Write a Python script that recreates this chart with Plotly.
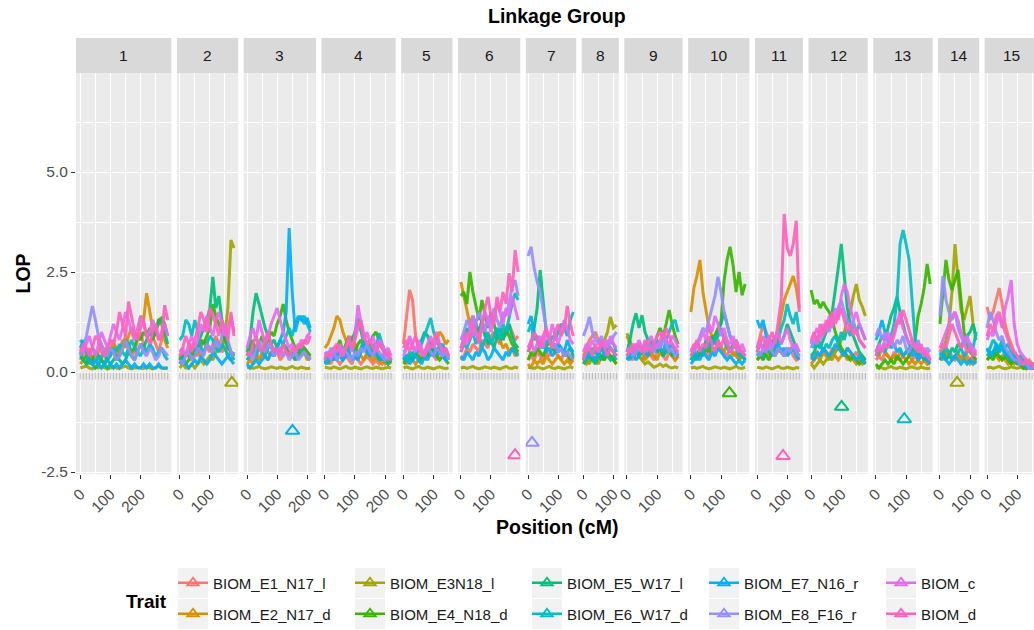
import plotly.graph_objects as go

# ---------------- data ----------------
TRAITS = ["BIOM_E1_N17_l", "BIOM_E2_N17_d", "BIOM_E3N18_l", "BIOM_E4_N18_d", "BIOM_E5_W17_l",
          "BIOM_E6_W17_d", "BIOM_E7_N16_r", "BIOM_E8_F16_r", "BIOM_c", "BIOM_d"]
COLORS = ["#F8766D", "#D89000", "#A3A500", "#39B600", "#00BF7D",
          "#00BFC4", "#00B0F6", "#9590FF", "#E76BF3", "#FF62BC"]
LINKAGE_GROUPS = ["1", "2", "3", "4", "5", "6", "7", "8", "9", "10", "11", "12", "13", "14", "15"]
LG_LENGTH = [288, 185, 218, 224, 155, 188, 152, 112, 176, 185, 145, 179, 179, 124, 161]
X_BREAKS = [0, 100, 200]
X_MINOR_BREAKS = [50, 150, 250]
Y_BREAKS = [-2.5, 0.0, 2.5, 5.0]
Y_MINOR_BREAKS = [-1.25, 1.25, 3.75, 6.25]
STEP_CM = 10          # scan step of the LOP profiles
RUG_Y = -0.1          # level of the marker rug

# LOP profiles, one list per trait (order of TRAITS), sampled every STEP_CM
LOP_LG1 = [
    [0.3, 0.5, 0.4, 0.6, 0.3, 0.2, 0.5, 0.7, 0.4, 0.3, 0.6, 0.8, 0.5, 0.4, 0.7, 0.9, 0.6, 0.4, 0.5, 0.8, 1.0, 0.7, 0.5, 0.6, 0.9, 0.7, 0.5, 0.8, 1.1, 0.9],
    [0.2, 0.3, 0.2, 0.4, 0.3, 0.5, 0.4, 0.3, 0.6, 0.5, 0.4, 0.7, 0.6, 0.5, 0.8, 0.6, 0.9, 1.1, 0.8, 1.0, 1.4, 1.3, 1.97, 1.5, 1.1, 0.9, 1.3, 1.2, 0.8, 0.6],
    [0.1, 0.12, 0.15, 0.1, 0.08, 0.12, 0.1, 0.14, 0.11, 0.08, 0.1, 0.13, 0.1, 0.09, 0.12, 0.15, 0.1, 0.08, 0.1, 0.12, 0.1, 0.09, 0.13, 0.1, 0.08, 0.11, 0.14, 0.1, 0.09, 0.1],
    [0.5, 0.3, 0.4, 0.2, 0.3, 0.5, 0.4, 0.3, 0.2, 0.4, 0.6, 0.5, 0.3, 0.4, 0.6, 0.8, 0.7, 0.5, 0.6, 0.9, 0.8, 1.0, 0.9, 1.1, 0.8, 1.0, 1.3, 1.35, 1.2, 0.9],
    [0.4, 0.3, 0.2, 0.3, 0.2, 0.1, 0.2, 0.3, 0.2, 0.1, 0.2, 0.3, 0.4, 0.3, 0.2, 0.3, 0.5, 0.4, 0.3, 0.5, 0.7, 0.6, 0.8, 1.0, 0.9, 1.1, 1.2, 1.3, 1.0, 0.7],
    [0.8, 0.7, 0.5, 0.4, 0.6, 0.5, 0.3, 0.4, 0.5, 0.3, 0.4, 0.6, 0.5, 0.7, 0.5, 0.4, 0.6, 0.8, 0.6, 0.5, 0.4, 0.6, 0.5, 0.7, 0.6, 0.4, 0.5, 0.6, 0.4, 0.3],
    [0.6, 0.8, 0.5, 0.3, 0.2, 0.3, 0.2, 0.1, 0.2, 0.3, 0.2, 0.1, 0.2, 0.1, 0.2, 0.3, 0.2, 0.1, 0.2, 0.1, 0.1, 0.2, 0.1, 0.2, 0.1, 0.1, 0.2, 0.1, 0.1, 0.1],
    [0.4, 0.6, 0.9, 1.3, 1.65, 1.3, 0.9, 0.7, 0.5, 0.4, 0.6, 0.5, 0.3, 0.4, 0.6, 0.8, 0.6, 0.4, 0.3, 0.5, 0.7, 0.5, 0.4, 0.6, 0.5, 0.3, 0.4, 0.6, 0.5, 0.4],
    [0.6, 0.5, 0.7, 0.9, 0.6, 0.4, 0.7, 1.0, 0.8, 0.6, 0.9, 1.2, 1.0, 0.8, 1.1, 1.5, 1.3, 1.0, 0.8, 1.1, 1.4, 1.2, 0.9, 1.0, 1.3, 1.1, 0.8, 1.0, 1.2, 0.9],
    [0.5, 0.7, 0.6, 0.4, 0.6, 0.9, 0.8, 0.5, 0.4, 0.6, 0.8, 0.7, 1.0, 1.5, 1.2, 0.9, 1.76, 1.4, 1.0, 0.8, 1.1, 1.3, 0.9, 0.7, 1.0, 1.2, 0.8, 0.9, 1.67, 1.3],
]
LOP_LG2 = [
    [0.3, 0.5, 0.4, 0.6, 0.7, 0.5, 0.4, 0.6, 0.8, 0.6, 0.5, 0.7, 0.9, 0.7, 0.5, 0.6, 0.4, 0.3, 0.5],
    [0.2, 0.3, 0.5, 0.4, 0.3, 0.5, 0.6, 0.4, 0.5, 0.7, 0.6, 0.5, 0.8, 0.7, 0.6, 0.9, 0.7, 0.5, 0.4],
    [0.1, 0.2, 0.1, 0.1, 0.2, 0.1, 0.2, 0.3, 0.2, 0.3, 0.4, 0.3, 0.5, 0.6, 0.6, 0.9, 1.6, 3.3, 3.1],
    [0.3, 0.4, 0.2, 0.3, 0.5, 0.4, 0.6, 0.8, 0.7, 0.9, 1.1, 1.7, 1.4, 1.2, 1.0, 0.8, 0.6, 0.5, 0.4],
    [0.4, 0.3, 0.5, 0.4, 0.6, 0.5, 0.7, 0.9, 1.1, 1.3, 1.6, 2.38, 1.6, 1.9, 1.3, 1.0, 0.7, 0.5, 0.4],
    [0.8, 0.9, 1.3, 1.2, 0.9, 1.3, 1.0, 0.6, 0.5, 0.7, 0.9, 0.8, 0.6, 0.5, 0.7, 0.6, 0.4, 0.5, 0.3],
    [0.2, 0.3, 0.2, 0.1, 0.2, 0.3, 0.2, 0.4, 0.3, 0.2, 0.3, 0.5, 0.4, 0.3, 0.2, 0.3, 0.4, 0.3, 0.2],
    [0.3, 0.2, 0.4, 0.5, 0.3, 0.4, 0.6, 0.5, 0.4, 0.7, 0.6, 0.5, 0.8, 0.6, 0.9, 1.2, 0.8, 0.5, 0.4],
    [0.5, 0.6, 0.4, 0.7, 0.9, 0.6, 0.8, 1.2, 1.0, 1.4, 1.1, 0.9, 1.3, 1.5, 1.2, 0.9, 1.1, 1.4, 1.0],
    [0.4, 0.6, 0.9, 0.7, 0.5, 0.8, 1.1, 1.5, 1.3, 1.0, 1.6, 1.4, 1.2, 0.9, 1.3, 1.1, 0.8, 1.5, 0.9],
]
LOP_LG3 = [
    [0.3, 0.4, 0.6, 0.5, 0.3, 0.4, 0.6, 0.5, 0.4, 0.6, 0.5, 0.3, 0.4, 0.6, 0.5, 0.4, 0.3, 0.5, 0.4, 0.6, 0.5, 0.4],
    [0.2, 0.3, 0.2, 0.4, 0.3, 0.5, 0.4, 0.3, 0.5, 0.4, 0.6, 0.5, 0.7, 0.6, 0.5, 0.4, 0.5, 0.6, 0.4, 0.5, 0.3, 0.4],
    [0.1, 0.12, 0.09, 0.11, 0.14, 0.1, 0.08, 0.1, 0.13, 0.11, 0.09, 0.12, 0.1, 0.08, 0.11, 0.14, 0.1, 0.09, 0.12, 0.1, 0.08, 0.1],
    [0.4, 0.6, 0.8, 0.5, 0.7, 0.9, 0.6, 0.8, 1.0, 0.9, 1.2, 1.4, 1.7, 1.3, 1.0, 0.8, 0.6, 0.5, 0.7, 0.6, 0.5, 0.4],
    [0.5, 0.8, 1.5, 1.97, 1.7, 1.4, 1.1, 0.9, 0.7, 0.8, 0.6, 0.5, 0.7, 0.6, 0.4, 0.5, 0.3, 0.4, 0.6, 0.5, 0.4, 0.3],
    [0.3, 0.4, 0.5, 0.4, 0.6, 0.5, 0.4, 0.6, 0.7, 0.5, 0.6, 0.8, 0.7, 0.9, 1.1, 0.9, 1.2, 1.4, 1.3, 1.4, 1.2, 1.0],
    [0.2, 0.1, 0.2, 0.3, 0.2, 0.3, 0.4, 0.3, 0.5, 0.4, 0.6, 0.8, 1.0, 1.5, 3.6, 2.0, 1.0, 1.3, 1.4, 1.2, 1.35, 1.1],
    [0.4, 0.5, 0.3, 0.6, 0.8, 0.6, 0.5, 0.7, 0.6, 0.4, 0.5, 0.6, 0.4, 0.5, 0.3, 0.4, 0.5, 0.3, 0.4, 0.5, 0.4, 0.3],
    [0.6, 0.9, 1.1, 0.8, 1.3, 1.0, 0.7, 0.9, 1.2, 1.4, 1.6, 1.3, 1.0, 0.8, 0.6, 0.7, 0.5, 0.6, 0.8, 0.7, 0.9, 1.0],
    [0.5, 0.4, 0.7, 0.9, 0.6, 0.5, 0.8, 1.0, 0.7, 0.5, 0.6, 0.4, 0.7, 0.5, 0.4, 0.6, 0.5, 0.7, 0.6, 0.8, 0.7, 0.9],
]
LOP_LG4 = [
    [0.2, 0.3, 0.2, 0.4, 0.3, 0.2, 0.3, 0.4, 0.3, 0.2, 0.4, 0.3, 0.2, 0.3, 0.4, 0.3, 0.2, 0.3, 0.2, 0.3, 0.2, 0.3, 0.2],
    [0.6, 0.7, 0.9, 1.1, 1.4, 1.3, 1.0, 0.8, 0.6, 0.9, 0.7, 0.5, 0.4, 0.3, 0.5, 0.4, 0.3, 0.4, 0.3, 0.2, 0.3, 0.2, 0.3],
    [0.12, 0.1, 0.09, 0.13, 0.1, 0.08, 0.11, 0.14, 0.1, 0.09, 0.12, 0.1, 0.08, 0.11, 0.13, 0.1, 0.09, 0.12, 0.1, 0.08, 0.1, 0.12, 0.1],
    [0.3, 0.4, 0.5, 0.4, 0.6, 0.8, 0.5, 0.7, 0.9, 0.6, 0.5, 0.7, 0.8, 0.6, 0.5, 0.7, 0.9, 1.0, 0.8, 0.6, 0.5, 0.4, 0.3],
    [0.3, 0.2, 0.4, 0.3, 0.5, 0.4, 0.3, 0.5, 0.6, 0.8, 1.0, 1.35, 1.0, 0.7, 0.5, 0.6, 0.4, 0.5, 0.3, 0.4, 0.3, 0.2, 0.3],
    [0.4, 0.3, 0.5, 0.4, 0.3, 0.5, 0.6, 0.4, 0.5, 0.7, 0.5, 0.4, 0.6, 0.8, 0.6, 0.5, 0.7, 0.6, 0.97, 0.7, 0.5, 0.4, 0.3],
    [0.2, 0.3, 0.4, 0.3, 0.5, 0.4, 0.3, 0.4, 0.5, 0.3, 0.4, 0.3, 0.5, 0.7, 0.5, 0.4, 0.6, 0.5, 0.4, 0.3, 0.5, 0.4, 0.3],
    [0.5, 0.4, 0.6, 0.5, 0.3, 0.4, 0.6, 0.5, 0.4, 0.3, 0.5, 0.4, 0.6, 0.5, 0.7, 0.5, 0.4, 0.6, 0.5, 0.4, 0.3, 0.4, 0.3],
    [0.4, 0.5, 0.3, 0.6, 0.5, 0.7, 0.4, 0.6, 0.8, 0.5, 0.9, 1.67, 1.2, 0.8, 1.0, 0.7, 0.9, 0.6, 0.8, 0.7, 0.5, 0.6, 0.4],
    [0.3, 0.5, 0.4, 0.6, 0.7, 0.5, 0.4, 0.6, 0.9, 0.6, 0.8, 1.1, 1.3, 0.9, 0.7, 0.8, 0.6, 0.5, 0.7, 0.6, 0.4, 0.5, 0.3],
]
LOP_LG5 = [
    [0.7, 1.4, 2.05, 1.8, 0.9, 0.6, 0.5, 0.4, 0.6, 0.5, 0.4, 0.3, 0.5, 0.4, 0.3, 0.4],
    [0.3, 0.2, 0.4, 0.3, 0.2, 0.3, 0.4, 0.3, 0.5, 0.4, 0.6, 0.8, 1.0, 0.9, 0.7, 0.8],
    [0.1, 0.13, 0.1, 0.08, 0.11, 0.14, 0.1, 0.09, 0.12, 0.1, 0.08, 0.11, 0.13, 0.1, 0.09, 0.1],
    [0.2, 0.3, 0.4, 0.3, 0.5, 0.4, 0.3, 0.5, 0.4, 0.6, 0.5, 0.4, 0.3, 0.4, 0.3, 0.2],
    [0.3, 0.4, 0.3, 0.5, 0.4, 0.6, 0.8, 1.0, 0.9, 0.7, 0.5, 0.4, 0.6, 0.5, 0.4, 0.3],
    [0.4, 0.3, 0.5, 0.4, 0.6, 0.5, 0.7, 0.9, 1.1, 1.35, 1.0, 0.8, 0.6, 0.7, 0.5, 0.4],
    [0.3, 0.4, 0.2, 0.3, 0.4, 0.3, 0.2, 0.4, 0.3, 0.5, 0.4, 0.6, 0.5, 0.4, 0.3, 0.4],
    [0.5, 0.6, 0.8, 0.6, 0.5, 0.7, 0.5, 0.4, 0.6, 0.5, 0.4, 0.6, 0.5, 0.4, 0.5, 0.3],
    [0.4, 0.6, 0.9, 0.7, 0.5, 0.8, 0.6, 0.4, 0.7, 0.9, 0.6, 0.8, 0.7, 0.5, 0.6, 0.4],
    [0.6, 0.8, 0.5, 0.7, 0.9, 0.6, 0.4, 0.5, 0.7, 0.6, 0.8, 1.0, 0.7, 0.5, 0.6, 0.4],
]
LOP_LG6 = [
    [0.3, 0.4, 0.6, 0.5, 0.7, 0.6, 0.5, 0.8, 0.7, 0.6, 0.9, 1.0, 0.8, 0.7, 1.1, 0.9, 1.2, 1.0, 0.8, 0.9],
    [2.25, 1.9, 1.5, 1.2, 1.4, 1.1, 0.9, 1.3, 1.0, 0.8, 0.7, 0.9, 1.1, 0.8, 0.6, 0.7, 0.5, 0.6, 0.4, 0.5],
    [0.1, 0.12, 0.09, 0.11, 0.14, 0.1, 0.08, 0.1, 0.13, 0.11, 0.09, 0.12, 0.1, 0.08, 0.11, 0.14, 0.1, 0.09, 0.12, 0.1],
    [1.9, 2.0, 1.7, 2.5, 2.0, 1.6, 1.3, 1.8, 1.4, 1.1, 1.5, 1.2, 0.9, 1.0, 0.8, 1.1, 0.9, 0.7, 0.6, 0.5],
    [0.6, 0.8, 1.1, 0.9, 1.4, 1.2, 1.0, 1.3, 0.9, 0.7, 0.8, 0.6, 0.9, 1.1, 0.8, 1.0, 1.2, 0.9, 0.7, 0.6],
    [0.5, 0.7, 0.6, 0.8, 1.0, 0.7, 0.9, 0.6, 0.8, 1.0, 0.7, 0.9, 1.1, 0.8, 1.2, 1.0, 1.4, 1.7, 1.97, 1.8],
    [0.4, 0.3, 0.5, 0.4, 0.3, 0.5, 0.4, 0.6, 0.5, 0.3, 0.4, 0.6, 0.5, 0.4, 0.3, 0.5, 0.4, 0.6, 0.5, 0.4],
    [0.8, 1.0, 1.3, 1.1, 0.9, 1.2, 1.5, 1.3, 1.0, 1.4, 1.2, 1.6, 1.3, 1.1, 1.5, 1.4, 1.8, 2.1, 2.3, 1.9],
    [0.6, 0.9, 0.7, 1.1, 1.4, 1.0, 0.8, 1.2, 1.5, 1.3, 1.0, 1.4, 1.7, 1.5, 1.2, 1.6, 1.4, 1.9, 1.6, 1.3],
    [0.5, 0.7, 1.0, 0.8, 1.2, 1.0, 0.7, 1.1, 1.6, 1.88, 1.4, 1.2, 1.88, 1.5, 2.0, 1.7, 2.47, 2.0, 3.05, 2.5],
]
LOP_LG7 = [
    [0.3, 0.4, 0.3, 0.5, 0.4, 0.3, 0.5, 0.4, 0.6, 0.5, 0.4, 0.3, 0.5, 0.4, 0.3, 0.4],
    [0.2, 0.1, 0.3, 0.2, 0.3, 0.2, 0.4, 0.3, 0.2, 0.3, 0.4, 0.3, 0.2, 0.3, 0.2, 0.3],
    [0.12, 0.1, 0.09, 0.13, 0.1, 0.08, 0.11, 0.14, 0.1, 0.09, 0.12, 0.1, 0.08, 0.11, 0.13, 0.1],
    [0.3, 0.5, 0.4, 0.6, 0.5, 0.4, 0.6, 0.8, 0.6, 0.5, 0.7, 0.6, 0.4, 0.5, 0.3, 0.4],
    [0.5, 0.7, 1.1, 1.6, 2.55, 1.8, 1.0, 0.8, 0.6, 0.7, 0.5, 0.6, 0.4, 0.5, 0.6, 0.4],
    [1.0, 1.2, 0.8, 0.9, 0.7, 0.6, 0.8, 0.7, 0.9, 0.8, 1.0, 1.2, 1.1, 0.9, 1.3, 1.5],
    [1.2, 1.4, 1.0, 0.8, 0.6, 0.7, 0.5, 0.6, 0.4, 0.5, 0.7, 0.6, 0.5, 0.8, 0.6, 0.5],
    [2.9, 3.13, 2.6, 2.25, 2.0, 1.5, 1.1, 0.8, 0.6, 0.7, 0.5, 0.6, 0.4, 0.5, 0.4, 0.3],
    [0.6, 0.8, 0.5, 0.7, 0.9, 0.6, 1.0, 0.8, 1.2, 0.9, 0.7, 1.0, 1.3, 1.1, 0.8, 0.7],
    [0.5, 0.7, 1.0, 0.8, 0.6, 0.9, 1.1, 0.8, 0.6, 1.0, 1.2, 0.9, 1.1, 1.65, 1.2, 0.9],
]
LOP_LG8 = [
    [0.4, 0.6, 0.8, 0.9, 1.0, 0.8, 0.6, 0.5, 0.7, 0.6, 0.5, 0.4],
    [0.3, 0.2, 0.3, 0.4, 0.3, 0.2, 0.4, 0.3, 0.5, 0.4, 0.3, 0.2],
    [0.2, 0.3, 0.2, 0.4, 0.3, 0.5, 0.6, 0.8, 1.0, 1.38, 1.1, 1.17],
    [0.3, 0.4, 0.5, 0.4, 0.6, 0.5, 0.4, 0.3, 0.5, 0.4, 0.3, 0.2],
    [0.2, 0.3, 0.4, 0.3, 0.2, 0.4, 0.3, 0.5, 0.4, 0.3, 0.4, 0.3],
    [0.3, 0.5, 0.4, 0.6, 0.5, 0.4, 0.7, 0.5, 0.6, 0.8, 0.7, 0.5],
    [0.4, 0.3, 0.5, 0.4, 0.3, 0.5, 0.6, 0.4, 0.5, 0.6, 0.5, 0.4],
    [0.9, 1.1, 1.38, 1.0, 0.8, 0.7, 0.9, 0.6, 0.8, 0.7, 0.9, 1.0],
    [0.5, 0.7, 0.6, 0.8, 0.6, 0.5, 0.7, 0.8, 0.6, 0.9, 0.7, 0.6],
    [0.3, 0.5, 0.6, 0.4, 0.7, 0.5, 0.8, 0.6, 0.4, 0.6, 0.5, 0.4],
]
LOP_LG9 = [
    [0.3, 0.4, 0.3, 0.5, 0.4, 0.3, 0.4, 0.5, 0.4, 0.3, 0.5, 0.6, 0.4, 0.3, 0.5, 0.4, 0.3, 0.4],
    [0.9, 0.7, 0.5, 0.6, 0.4, 0.5, 0.3, 0.4, 0.5, 0.4, 0.3, 0.5, 0.4, 0.6, 0.5, 0.4, 0.3, 0.4],
    [0.97, 0.8, 0.6, 0.5, 0.4, 0.3, 0.2, 0.25, 0.18, 0.12, 0.15, 0.2, 0.14, 0.18, 0.12, 0.1, 0.13, 0.1],
    [0.4, 0.5, 0.6, 0.5, 0.7, 0.6, 0.5, 0.7, 0.8, 0.6, 0.9, 1.1, 0.9, 1.2, 1.55, 1.2, 0.9, 0.7],
    [0.5, 0.8, 1.2, 1.47, 1.1, 1.42, 1.0, 0.8, 0.6, 0.7, 0.5, 0.6, 0.4, 0.5, 0.6, 0.4, 0.5, 0.4],
    [0.4, 0.3, 0.5, 0.6, 0.4, 0.5, 0.7, 0.6, 0.5, 0.7, 0.8, 0.6, 0.9, 0.8, 1.0, 1.2, 1.3, 1.0],
    [0.3, 0.4, 0.5, 0.3, 0.4, 0.6, 0.5, 0.4, 0.6, 0.5, 0.7, 0.6, 0.5, 0.8, 0.6, 0.7, 0.5, 0.4],
    [0.5, 0.6, 0.4, 0.5, 0.7, 0.5, 0.6, 0.8, 0.6, 0.5, 0.7, 0.6, 0.8, 0.7, 0.5, 0.6, 0.4, 0.5],
    [0.6, 0.5, 0.7, 0.6, 0.8, 0.6, 0.5, 0.7, 0.9, 0.7, 0.6, 0.8, 1.0, 0.8, 0.7, 0.9, 0.8, 0.6],
    [0.4, 0.6, 0.5, 0.7, 0.6, 0.5, 0.8, 0.6, 0.5, 0.7, 0.9, 1.0, 0.8, 1.1, 0.9, 0.7, 0.6, 0.5],
]
LOP_LG10 = [
    [0.3, 0.4, 0.5, 0.4, 0.6, 0.5, 0.4, 0.6, 0.5, 0.7, 0.6, 0.5, 0.4, 0.6, 0.5, 0.4, 0.3, 0.5, 0.4],
    [1.5, 2.1, 2.4, 2.8, 2.0, 1.5, 1.1, 0.9, 0.7, 0.8, 0.6, 0.5, 0.7, 0.6, 0.4, 0.5, 0.3, 0.4, 0.3],
    [0.1, 0.12, 0.09, 0.11, 0.14, 0.1, 0.08, 0.1, 0.13, 0.11, 0.09, 0.12, 0.1, 0.08, 0.11, 0.14, 0.1, 0.09, 0.12],
    [0.3, 0.4, 0.3, 0.5, 0.4, 0.6, 0.5, 0.8, 0.93, 1.1, 1.26, 2.26, 2.8, 3.13, 2.67, 2.0, 2.5, 1.92, 2.2],
    [0.4, 0.5, 0.7, 0.6, 0.5, 0.8, 0.6, 0.9, 0.7, 1.0, 1.2, 1.5, 1.2, 0.9, 0.7, 0.6, 0.5, 0.4, 0.3],
    [0.3, 0.5, 0.4, 0.6, 0.5, 0.7, 0.6, 0.8, 0.7, 0.9, 1.1, 0.8, 0.6, 0.5, 0.7, 0.6, 0.4, 0.5, 0.3],
    [0.2, 0.3, 0.4, 0.3, 0.5, 0.4, 0.3, 0.5, 0.4, 0.6, 0.5, 0.4, 0.3, 0.4, 0.3, 0.2, 0.3, 0.2, 0.3],
    [0.6, 0.5, 0.7, 0.9, 1.1, 1.0, 1.3, 1.6, 1.9, 2.38, 2.0, 1.5, 1.2, 0.9, 0.7, 0.8, 0.6, 0.5, 0.4],
    [0.5, 0.7, 0.6, 0.8, 1.0, 0.8, 1.2, 1.0, 1.4, 1.2, 0.9, 1.1, 0.8, 0.7, 0.9, 0.6, 0.5, 0.7, 0.5],
    [0.4, 0.6, 0.8, 0.5, 0.7, 0.6, 0.9, 0.7, 0.5, 0.8, 0.6, 0.9, 0.7, 0.5, 0.6, 0.8, 0.6, 0.5, 0.4],
]
LOP_LG11 = [
    [0.6, 0.9, 1.2, 1.0, 0.8, 0.6, 0.7, 0.5, 0.6, 0.4, 0.5, 0.6, 0.4, 0.3, 0.4],
    [0.3, 0.4, 0.3, 0.5, 0.4, 0.6, 0.8, 1.0, 1.4, 1.8, 2.0, 2.2, 2.4, 2.1, 1.6],
    [0.12, 0.1, 0.09, 0.13, 0.1, 0.08, 0.11, 0.14, 0.1, 0.09, 0.12, 0.1, 0.08, 0.11, 0.1],
    [0.3, 0.4, 0.5, 0.4, 0.3, 0.5, 0.4, 0.6, 0.5, 0.4, 0.6, 0.5, 0.7, 0.5, 0.4],
    [0.4, 0.5, 0.3, 0.6, 0.5, 0.4, 0.6, 0.8, 0.7, 0.9, 1.2, 1.0, 0.8, 0.6, 0.5],
    [0.5, 0.7, 0.6, 0.8, 0.6, 0.7, 0.9, 0.8, 1.1, 1.3, 1.7, 1.4, 1.2, 1.5, 1.0],
    [1.3, 1.1, 1.3, 0.9, 0.7, 0.8, 0.6, 0.7, 0.5, 0.6, 0.4, 0.5, 0.6, 0.4, 0.3],
    [0.5, 0.4, 0.6, 0.5, 0.7, 0.5, 0.4, 0.6, 0.5, 0.4, 0.6, 0.5, 0.7, 0.5, 0.4],
    [0.6, 0.8, 0.5, 0.7, 0.9, 0.6, 0.8, 1.0, 0.7, 0.9, 1.1, 0.8, 0.6, 0.7, 0.5],
    [0.5, 0.7, 0.9, 0.6, 0.8, 1.0, 0.7, 1.2, 1.8, 3.95, 3.1, 2.9, 3.2, 3.78, 1.5],
]
LOP_LG12 = [
    [0.3, 0.4, 0.5, 0.4, 0.6, 0.5, 0.4, 0.6, 0.5, 0.7, 0.5, 0.4, 0.6, 0.5, 0.4, 0.5, 0.3, 0.4, 0.3],
    [0.2, 0.3, 0.4, 0.3, 0.5, 0.4, 0.3, 0.5, 0.4, 0.3, 0.4, 0.5, 0.3, 0.4, 0.3, 0.2, 0.3, 0.2, 0.3],
    [0.2, 0.1, 0.2, 0.3, 0.2, 0.3, 0.4, 0.3, 0.5, 0.6, 0.8, 1.0, 1.3, 1.5, 1.9, 2.2, 1.8, 1.63, 1.4],
    [2.05, 1.7, 1.8, 1.6, 1.75, 1.6, 1.5, 1.3, 1.0, 0.8, 0.6, 0.5, 0.4, 0.3, 0.4, 0.3, 0.2, 0.3, 0.2],
    [0.4, 0.5, 0.7, 0.6, 0.8, 1.0, 1.2, 1.5, 2.0, 2.6, 3.2, 2.3, 1.6, 1.2, 0.9, 0.7, 0.5, 0.4, 0.3],
    [0.8, 0.6, 0.9, 0.7, 0.5, 0.7, 0.6, 0.8, 0.9, 0.7, 1.0, 0.8, 1.1, 0.9, 1.2, 1.0, 1.2, 1.0, 0.8],
    [0.4, 0.3, 0.5, 0.4, 0.6, 0.5, 0.4, 0.5, 0.7, 0.6, 0.5, 0.4, 0.6, 0.5, 0.4, 0.3, 0.4, 0.3, 0.2],
    [0.6, 0.8, 0.7, 1.0, 0.9, 1.2, 1.0, 1.4, 1.3, 1.6, 1.8, 1.5, 1.3, 1.1, 1.3, 1.0, 0.8, 0.7, 0.6],
    [0.7, 0.9, 1.1, 0.8, 1.2, 1.0, 1.4, 1.1, 1.6, 1.3, 1.9, 2.2, 2.0, 1.6, 1.3, 1.5, 1.2, 1.0, 0.8],
    [0.8, 1.0, 0.7, 1.2, 0.9, 1.3, 1.1, 1.5, 1.2, 1.4, 1.6, 1.3, 1.0, 1.2, 0.9, 1.1, 0.8, 0.7, 0.6],
]
LOP_LG13 = [
    [0.3, 0.4, 0.3, 0.5, 0.4, 0.3, 0.5, 0.4, 0.3, 0.4, 0.5, 0.4, 0.3, 0.4, 0.3, 0.4, 0.3, 0.2, 0.3],
    [0.5, 0.4, 0.6, 0.5, 0.4, 0.3, 0.4, 0.3, 0.5, 0.4, 0.3, 0.2, 0.3, 0.2, 0.3, 0.2, 0.3, 0.2, 0.2],
    [0.1, 0.13, 0.1, 0.08, 0.11, 0.14, 0.1, 0.09, 0.12, 0.1, 0.08, 0.11, 0.13, 0.1, 0.09, 0.12, 0.1, 0.08, 0.1],
    [0.2, 0.1, 0.2, 0.3, 0.2, 0.3, 0.2, 0.4, 0.3, 0.2, 0.3, 0.4, 0.6, 0.8, 1.4, 1.7, 2.1, 2.7, 2.2],
    [0.5, 0.7, 0.9, 0.8, 1.1, 1.4, 1.6, 1.88, 1.5, 1.2, 0.9, 0.7, 0.5, 0.6, 0.4, 0.5, 0.3, 0.4, 0.3],
    [0.4, 0.5, 0.6, 0.5, 0.7, 0.9, 1.2, 1.8, 3.2, 3.55, 3.2, 2.8, 1.8, 0.8, 0.6, 0.5, 0.4, 0.3, 0.3],
    [0.8, 1.0, 1.3, 1.0, 0.8, 0.6, 0.7, 0.5, 0.6, 0.4, 0.5, 0.6, 0.4, 0.5, 0.3, 0.4, 0.5, 0.3, 0.2],
    [0.9, 1.1, 0.8, 1.0, 0.7, 0.9, 0.6, 0.8, 0.7, 0.9, 0.6, 0.5, 0.7, 0.6, 0.8, 0.5, 0.4, 0.6, 0.5],
    [0.5, 0.7, 0.6, 0.8, 1.0, 0.7, 0.9, 1.2, 1.5, 1.1, 0.9, 0.7, 0.8, 0.6, 0.7, 0.5, 0.6, 0.4, 0.3],
    [0.4, 0.6, 0.5, 0.7, 0.6, 0.8, 1.0, 1.3, 1.2, 1.55, 1.3, 1.0, 0.8, 0.6, 0.5, 0.7, 0.4, 0.5, 0.3],
]
LOP_LG14 = [
    [0.3, 0.4, 0.3, 0.5, 0.4, 0.3, 0.4, 0.3, 0.5, 0.4, 0.3, 0.4, 0.3],
    [0.4, 0.3, 0.5, 0.4, 0.3, 0.4, 0.5, 0.3, 0.4, 0.3, 0.2, 0.3, 0.2],
    [0.3, 0.5, 0.8, 1.2, 2.0, 3.2, 2.3, 1.55, 1.3, 1.6, 1.9, 1.2, 0.8],
    [1.2, 2.0, 2.8, 2.3, 2.05, 2.3, 2.55, 1.8, 1.0, 0.7, 0.5, 0.4, 0.3],
    [0.4, 0.5, 0.3, 0.4, 0.6, 0.5, 0.7, 0.6, 0.8, 0.9, 1.0, 1.2, 0.9],
    [0.5, 0.4, 0.6, 0.5, 0.3, 0.4, 0.5, 0.6, 0.4, 0.5, 0.7, 0.6, 1.0],
    [0.3, 0.4, 0.3, 0.2, 0.3, 0.4, 0.3, 0.2, 0.3, 0.2, 0.3, 0.2, 0.3],
    [1.4, 2.4, 1.8, 1.5, 1.3, 1.5, 1.1, 0.9, 0.7, 0.8, 0.6, 0.5, 0.4],
    [0.6, 0.8, 1.0, 1.2, 1.4, 1.5, 1.3, 1.0, 0.8, 0.9, 0.7, 0.6, 0.5],
    [0.5, 0.7, 0.6, 0.9, 1.2, 1.0, 0.8, 0.6, 0.7, 0.5, 0.6, 0.4, 0.5],
]
LOP_LG15 = [
    [1.63, 1.3, 1.5, 1.8, 2.1, 1.7, 1.2, 0.9, 0.7, 0.5, 0.4, 0.3, 0.3, 0.2, 0.3, 0.2, 0.2],
    [0.3, 0.4, 0.5, 0.4, 0.3, 0.4, 0.3, 0.2, 0.3, 0.2, 0.3, 0.2, 0.2, 0.3, 0.2, 0.2, 0.2],
    [0.1, 0.12, 0.09, 0.11, 0.14, 0.1, 0.08, 0.1, 0.13, 0.11, 0.09, 0.12, 0.1, 0.08, 0.11, 0.1, 0.09],
    [0.3, 0.4, 0.3, 0.5, 0.4, 0.3, 0.4, 0.3, 0.2, 0.3, 0.2, 0.2, 0.1, 0.2, 0.1, 0.1, 0.1],
    [0.4, 0.5, 0.4, 0.6, 0.5, 0.7, 0.5, 0.4, 0.3, 0.4, 0.3, 0.2, 0.2, 0.1, 0.2, 0.1, 0.1],
    [0.5, 0.6, 0.8, 0.7, 0.6, 0.8, 0.6, 0.7, 0.5, 0.4, 0.3, 0.4, 0.3, 0.2, 0.2, 0.1, 0.1],
    [0.6, 0.4, 0.5, 0.7, 0.5, 0.6, 0.4, 0.5, 0.3, 0.4, 0.2, 0.3, 0.2, 0.2, 0.1, 0.1, 0.1],
    [1.1, 1.5, 1.3, 1.0, 0.8, 0.9, 0.6, 0.5, 0.4, 0.3, 0.3, 0.2, 0.2, 0.2, 0.1, 0.1, 0.1],
    [0.8, 1.0, 0.9, 1.2, 1.4, 1.1, 1.6, 1.9, 2.3, 1.2, 0.7, 0.5, 0.4, 0.3, 0.2, 0.2, 0.1],
    [0.9, 1.2, 1.0, 1.4, 1.5, 1.2, 1.0, 0.8, 0.6, 0.5, 0.4, 0.3, 0.2, 0.3, 0.2, 0.2, 0.1],
]
LOP_BY_LG = [LOP_LG1, LOP_LG2, LOP_LG3, LOP_LG4, LOP_LG5, LOP_LG6, LOP_LG7, LOP_LG8,
             LOP_LG9, LOP_LG10, LOP_LG11, LOP_LG12, LOP_LG13, LOP_LG14, LOP_LG15]

# QTL triangles
QTL_LG = ["2", "3", "6", "7", "10", "11", "12", "13", "14"]
QTL_TRAIT = ["BIOM_E3N18_l", "BIOM_E7_N16_r", "BIOM_d", "BIOM_E8_F16_r", "BIOM_E4_N18_d",
             "BIOM_d", "BIOM_E5_W17_l", "BIOM_E6_W17_d", "BIOM_E3N18_l"]
QTL_POS = [173, 151, 180, 13, 128, 86, 101, 94, 57]
QTL_Y = [-0.27, -1.47, -2.08, -1.77, -0.53, -2.1, -0.87, -1.18, -0.27]

# ---------------- layout geometry ----------------
W, H = 1034, 630
FONT = "Liberation Sans, Arial, sans-serif"
PANEL_LEFT, PANEL_RIGHT, GAP = 76, 1038, 5.5
PANEL_TOP, PANEL_BOTTOM = 73, 474
STRIP_TOP = 38
Y_RANGE = [-2.55, 7.475]
TXT = 15.5      # small text (ticks, strips)
TITLE = 19.5    # axis titles

span_cm = [1.1 * L for L in LG_LENGTH]
avail = PANEL_RIGHT - PANEL_LEFT - GAP * (len(LG_LENGTH) - 1)
k = avail / sum(span_cm)   # px per cM

fig = go.Figure()
shapes, annotations = [], []
ydom = [1 - PANEL_BOTTOM / H, 1 - PANEL_TOP / H]
x0 = PANEL_LEFT
for i, lg in enumerate(LINKAGE_GROUPS):
    L = LG_LENGTH[i]
    x1 = x0 + span_cm[i] * k
    x1c = min(x1, W)
    r0 = -0.05 * L
    r1 = r0 + (x1c - x0) / k
    n = i + 1
    xa = "xaxis" if n == 1 else f"xaxis{n}"
    ya = "yaxis" if n == 1 else f"yaxis{n}"
    xr = "x" if n == 1 else f"x{n}"
    yr = "y" if n == 1 else f"y{n}"
    fig.layout[xa] = dict(
        domain=[x0 / W, x1c / W], anchor=yr, range=[r0, r1],
        tickmode="array", tickvals=X_BREAKS, ticktext=[str(b) for b in X_BREAKS],
        showgrid=True, gridcolor="white", gridwidth=1.3,
        minor=dict(tickmode="array", tickvals=X_MINOR_BREAKS, showgrid=True,
                   gridcolor="white", gridwidth=0.6),
        ticks="outside", ticklen=4, tickwidth=1.1, tickcolor="#333333",
        tickangle=-45, tickfont=dict(family=FONT, size=TXT, color="#4D4D4D"),
        zeroline=False, showline=False, fixedrange=True, automargin=False)
    fig.layout[ya] = dict(
        domain=ydom, anchor=xr, range=Y_RANGE,
        tickmode="array", tickvals=Y_BREAKS, ticktext=[f"{b:.1f}" for b in Y_BREAKS],
        showgrid=True, gridcolor="white", gridwidth=1.3,
        minor=dict(tickmode="array", tickvals=Y_MINOR_BREAKS, showgrid=True,
                   gridcolor="white", gridwidth=0.6),
        ticks="outside" if n == 1 else "", ticklen=4, tickwidth=1.1, tickcolor="#333333",
        showticklabels=(n == 1), tickfont=dict(family=FONT, size=TXT, color="#4D4D4D"),
        zeroline=False, showline=False, fixedrange=True, automargin=False)
    # strip
    shapes.append(dict(type="rect", xref="paper", yref="paper", x0=x0 / W, x1=x1c / W,
                       y0=1 - PANEL_TOP / H, y1=1 - STRIP_TOP / H,
                       fillcolor="#D9D9D9", line=dict(width=0), layer="below"))
    annotations.append(dict(text=lg, xref="paper", yref="paper", x=(x0 + x1) / 2 / W,
                            y=1 - (STRIP_TOP + PANEL_TOP) / 2 / H, showarrow=False,
                            xanchor="center", yanchor="middle",
                            font=dict(family=FONT, size=TXT, color="#1A1A1A")))
    # marker rug
    pos_all = [STEP_CM * j for j in range(max(len(v) for v in LOP_BY_LG[i]))]
    fig.add_trace(go.Scatter(x=pos_all, y=[RUG_Y] * len(pos_all), xaxis=xr, yaxis=yr,
                             mode="markers", showlegend=False, hoverinfo="skip",
                             marker=dict(symbol="line-ns-open", size=5,
                                         color="rgba(110,110,110,0.35)",
                                         line=dict(width=1.2, color="rgba(110,110,110,0.35)"))))
    # LOP profiles
    for t, vals in enumerate(LOP_BY_LG[i]):
        pos = [STEP_CM * j for j in range(len(vals))]
        fig.add_trace(go.Scatter(x=pos, y=vals, xaxis=xr, yaxis=yr, mode="lines",
                                 line=dict(color=COLORS[t], width=3), opacity=0.92,
                                 showlegend=False, name=TRAITS[t]))
    # QTL markers
    for q, qlg in enumerate(QTL_LG):
        if qlg == lg:
            c = COLORS[TRAITS.index(QTL_TRAIT[q])]
            fig.add_trace(go.Scatter(x=[QTL_POS[q]], y=[QTL_Y[q]], xaxis=xr, yaxis=yr,
                                     mode="markers", showlegend=False, name=QTL_TRAIT[q],
                                     marker=dict(symbol="triangle-up-open", size=12,
                                                 color=c, line=dict(width=2, color=c))))
    x0 = x1 + GAP

# legend entries (two rows as in ggplot, filled column-wise)
for t, name in enumerate(TRAITS):
    fig.add_trace(go.Scatter(x=[None], y=[None], mode="lines+markers", name=name,
                             legend="legend" if t % 2 == 0 else "legend2",
                             line=dict(color=COLORS[t], width=2.5),
                             marker=dict(symbol="triangle-up-open", size=10, color=COLORS[t],
                                         line=dict(width=1.8, color=COLORS[t]))))

LEG_X, LEG_ENTRY, LEG_ROWS = 173, 132, [583, 614]
legend_common = dict(orientation="h", xanchor="left", yanchor="middle", x=LEG_X / W,
                     font=dict(family=FONT, size=15, color="#1A1A1A"),
                     entrywidth=LEG_ENTRY, entrywidthmode="pixels", bgcolor="rgba(0,0,0,0)",
                     itemclick=False, itemdoubleclick=False)
# grey legend key backgrounds (ggplot legend.key)
for row_y in LEG_ROWS:
    for c in range(5):
        cx = LEG_X + 20 + c * (LEG_ENTRY + 45)
        shapes.append(dict(type="rect", xref="paper", yref="paper",
                           x0=(cx - 15) / W, x1=(cx + 15) / W,
                           y0=1 - (row_y + 15) / H, y1=1 - (row_y - 15) / H,
                           fillcolor="#F2F2F2", line=dict(width=0), layer="below"))

annotations += [
    dict(text="<b>Linkage Group</b>", xref="paper", yref="paper", x=(PANEL_LEFT + PANEL_RIGHT) / 2 / W,
         y=1 - 16 / H, showarrow=False, xanchor="center", yanchor="middle",
         font=dict(family=FONT, size=TITLE, color="black")),
    dict(text="<b>Position (cM)</b>", xref="paper", yref="paper", x=(PANEL_LEFT + PANEL_RIGHT) / 2 / W,
         y=1 - 527 / H, showarrow=False, xanchor="center", yanchor="middle",
         font=dict(family=FONT, size=TITLE, color="black")),
    dict(text="<b>LOP</b>", xref="paper", yref="paper", x=22 / W,
         y=1 - (PANEL_TOP + PANEL_BOTTOM) / 2 / H, showarrow=False, textangle=-90,
         xanchor="center", yanchor="middle", font=dict(family=FONT, size=TITLE, color="black")),
    dict(text="<b>Trait</b>", xref="paper", yref="paper", x=146 / W, y=1 - 601 / H,
         showarrow=False, xanchor="center", yanchor="middle",
         font=dict(family=FONT, size=19, color="black")),
]

fig.update_layout(
    width=W, height=H, margin=dict(l=0, r=0, t=0, b=0, autoexpand=False),
    paper_bgcolor="white", plot_bgcolor="#EBEBEB",
    shapes=shapes, annotations=annotations,
    legend=dict(legend_common, y=1 - LEG_ROWS[0] / H),
    legend2=dict(legend_common, y=1 - LEG_ROWS[1] / H),
    hovermode=False,
)

fig.write_html("out.html")
